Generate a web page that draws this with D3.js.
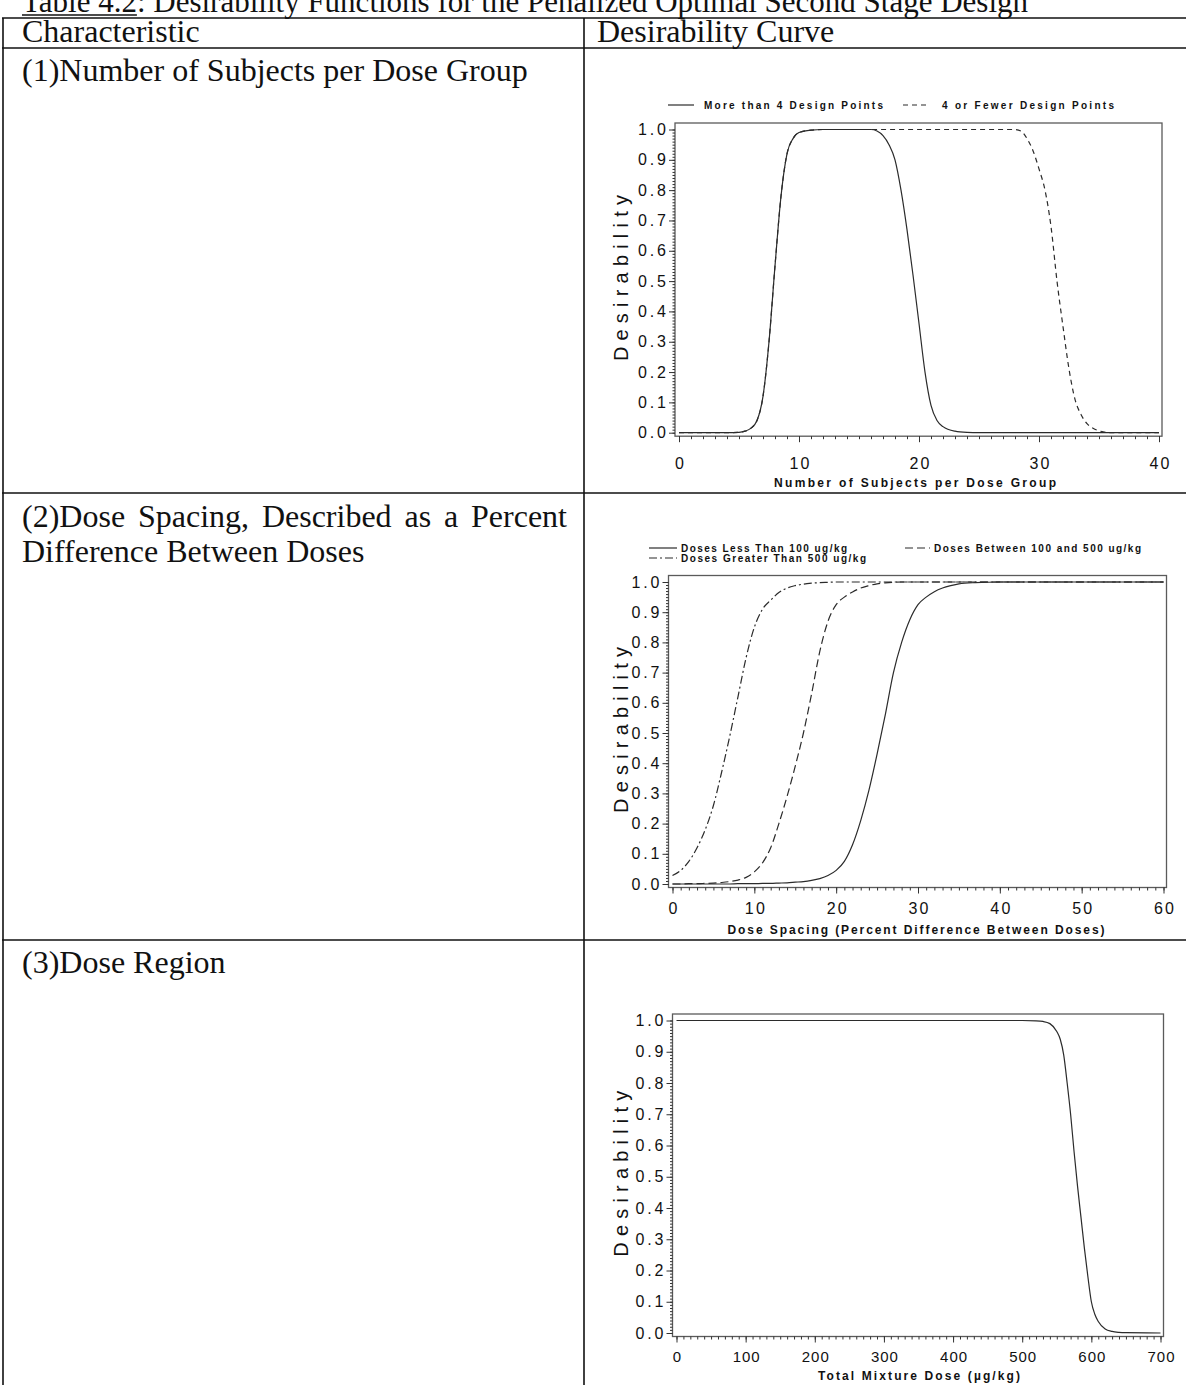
<!DOCTYPE html>
<html>
<head>
<meta charset="utf-8">
<script src="https://cdn.jsdelivr.net/npm/d3@7"></script>
<style>
  html, body { margin: 0; padding: 0; background: #fff; }
  svg { display: block; }
</style>
</head>
<body>
<svg id="page" width="1186" height="1385"></svg>
<script>
// ---------- table text ----------
const titleLead = "Table 4.2";
const titleRest = ": Desirability Functions for the Penalized Optimal Second Stage Design";
const columnHeaders = ["Characteristic", "Desirability Curve"];
const rowLabels = [
  ["(1)Number of Subjects per Dose Group"],
  ["(2)Dose Spacing, Described as a Percent", "Difference Between Doses"],
  ["(3)Dose Region"]
];

// ---------- shared axis ticks ----------
const desirabilityTicks = [0, 0.1, 0.2, 0.3, 0.4, 0.5, 0.6, 0.7, 0.8, 0.9, 1.0];

// ---------- (1) number of subjects per dose group ----------
const subjectTicks = [0, 10, 20, 30, 40];
const subjectCounts = [0, 2, 4, 5, 5.5, 6, 6.5, 7, 7.5, 8, 8.5, 9, 9.5, 10, 11, 12, 14, 16,
  16.5, 17, 17.5, 18, 18.5, 19, 19.5, 20, 20.5, 21, 21.5, 22, 23, 24, 25, 26,
  28, 28.5, 29, 29.5, 30, 30.5, 31, 31.5, 32, 32.5, 33, 33.5, 34, 34.5, 35, 35.5, 36, 38, 40];
const desMoreThan4 = [0, 0, 0, 0.001, 0.005, 0.015, 0.04, 0.12, 0.3, 0.55, 0.78, 0.92, 0.97, 0.99, 0.998, 1, 1, 1,
  0.995, 0.98, 0.95, 0.9, 0.8, 0.67, 0.52, 0.36, 0.2, 0.09, 0.04, 0.02, 0.005, 0.001, 0, 0,
  0, 0, 0, 0, 0, 0, 0, 0, 0, 0, 0, 0, 0, 0, 0, 0, 0, 0, 0];
const desFourOrFewer = [0, 0, 0, 0.001, 0.005, 0.015, 0.04, 0.12, 0.3, 0.55, 0.78, 0.92, 0.97, 0.99, 0.998, 1, 1, 1,
  1, 1, 1, 1, 1, 1, 1, 1, 1, 1, 1, 1, 1, 1, 1, 1,
  1, 0.995, 0.97, 0.93, 0.87, 0.8, 0.68, 0.5, 0.35, 0.21, 0.11, 0.06, 0.03, 0.015, 0.006, 0.002, 0, 0, 0];

// ---------- (2) dose spacing ----------
const spacingTicks = [0, 10, 20, 30, 40, 50, 60];
const doseSpacing = [0, 1, 2, 3, 4, 5, 6, 7, 8, 9, 10, 11, 12, 13, 14, 15, 16, 17, 18, 19,
  20, 21, 22, 23, 24, 25, 26, 27, 28, 29, 30, 31, 32, 33, 34, 35, 37, 40, 45, 50, 55, 60];
const desLess100 = [0, 0, 0, 0, 0, 0, 0, 0, 0.001, 0.001, 0.001, 0.002, 0.002, 0.003, 0.004, 0.006, 0.008, 0.012, 0.018, 0.028,
  0.045, 0.075, 0.13, 0.21, 0.31, 0.43, 0.56, 0.7, 0.8, 0.875, 0.925, 0.95, 0.968, 0.98, 0.988, 0.994, 0.998, 1, 1, 1, 1, 1];
const desBetween100And500 = [0, 0, 0.001, 0.001, 0.002, 0.003, 0.005, 0.008, 0.013, 0.022, 0.04, 0.07, 0.12, 0.2, 0.29, 0.39, 0.5, 0.63, 0.77, 0.87,
  0.925, 0.95, 0.967, 0.98, 0.988, 0.994, 0.997, 0.999, 1, 1, 1, 1, 1, 1, 1, 1, 1, 1, 1, 1, 1, 1];
const desGreater500 = [0.028, 0.045, 0.075, 0.12, 0.18, 0.26, 0.37, 0.49, 0.62, 0.75, 0.85, 0.91, 0.94, 0.965, 0.98, 0.988, 0.993, 0.996, 0.998, 0.999,
  1, 1, 1, 1, 1, 1, 1, 1, 1, 1, 1, 1, 1, 1, 1, 1, 1, 1, 1, 1, 1, 1];

// ---------- (3) dose region ----------
const doseTicks = [0, 100, 200, 300, 400, 500, 600, 700];
const totalDose = [0, 100, 200, 300, 400, 500, 520, 530, 540, 550, 555, 560, 565, 570, 575, 580, 585, 590, 595, 600, 605, 610, 620, 630, 640, 650, 700];
const desDoseRegion = [1, 1, 1, 1, 1, 1, 0.999, 0.997, 0.99, 0.965, 0.94, 0.89, 0.8, 0.7, 0.58, 0.47, 0.37, 0.27, 0.18, 0.1, 0.06, 0.037, 0.013, 0.005, 0.002, 0.001, 0];

// ---------- styling ----------
const SERIF = "'Liberation Serif','Times New Roman',serif";
const SANS = "'Liberation Sans',Arial,sans-serif";
const INK = "#111";
const CURVE = "#2b2b2b";
const FRAME = "#5a5a5a";
const DASHES = { solid: null, dash: "5,4", longDash: "8,4", dashDot: "8,3,2,3" };

const svg = d3.select("#page");

// ---------- table ----------
const title = svg.append("text")
  .attr("x", 22).attr("y", 12)
  .attr("font-family", SERIF).attr("font-size", 31).attr("fill", INK);
title.append("tspan").text(titleLead);
title.append("tspan").text(titleRest);
const leadW = title.node().getSubStringLength(0, titleLead.length);
svg.append("line").attr("x1", 22).attr("x2", 22 + leadW).attr("y1", 15).attr("y2", 15)
  .attr("stroke", INK).attr("stroke-width", 1.4);

const ruleY = [18, 48, 493, 940];
ruleY.forEach(yv => svg.append("line")
  .attr("x1", 2).attr("x2", 1186).attr("y1", yv).attr("y2", yv)
  .attr("stroke", INK).attr("stroke-width", 1.6));
[3, 584].forEach(xv => svg.append("line")
  .attr("x1", xv).attr("x2", xv).attr("y1", 18).attr("y2", 1385)
  .attr("stroke", INK).attr("stroke-width", 1.6));

function serifText(str, x, y) {
  return svg.append("text").attr("x", x).attr("y", y)
    .attr("font-family", SERIF).attr("font-size", 32).attr("fill", INK).text(str);
}
serifText(columnHeaders[0], 22, 42);
serifText(columnHeaders[1], 597, 42);
serifText(rowLabels[0][0], 22, 81);

// justified first line of row 2: words spread between the cell margins
(function justified(line, x0, x1, y) {
  const words = line.split(" ");
  const nodes = words.map(w => serifText(w, 0, y));
  const widths = nodes.map(n => n.node().getComputedTextLength());
  const gap = (x1 - x0 - d3.sum(widths)) / (words.length - 1);
  let cx = x0;
  nodes.forEach((n, i) => { n.attr("x", cx); cx += widths[i] + gap; });
})(rowLabels[1][0], 22, 567, 527);
serifText(rowLabels[1][1], 22, 562);
serifText(rowLabels[2][0], 22, 973);

// ---------- chart drawing ----------
function sasText(g, str, x, y, size, width, opts = {}) {
  const t = g.append("text").attr("x", x).attr("y", y)
    .attr("font-family", SANS).attr("font-size", size)
    .attr("font-weight", opts.bold ? "bold" : "normal")
    .attr("fill", INK)
    .attr("text-anchor", opts.anchor || "start")
    .text(str);
  if (width && str.length > 1) t.attr("textLength", width).attr("lengthAdjust", "spacing");
  if (opts.transform) t.attr("transform", opts.transform);
  return t;
}

function drawChart(cfg) {
  const g = svg.append("g");
  const x = d3.scaleLinear().domain(cfg.xDomain).range(cfg.xPx);
  const y = d3.scaleLinear().domain([0, 1]).range([cfg.yPx[1], cfg.yPx[0]]);

  const fl = cfg.xPx[0] - 4, fr = cfg.xPx[1] + 3;
  const ft = y(1) - 6.5, fb = y(0) + 3.5;

  // curves
  const line = d3.line().x(d => x(d[0])).y(d => y(d[1])).curve(d3.curveMonotoneX);
  cfg.series.forEach(s => {
    g.append("path")
      .datum(cfg.xs.map((xv, i) => [xv, s.values[i]]))
      .attr("d", line)
      .attr("fill", "none")
      .attr("stroke", CURVE)
      .attr("stroke-width", 1.2)
      .attr("stroke-dasharray", DASHES[s.style]);
  });

  // frame
  g.append("rect").attr("x", fl).attr("y", ft).attr("width", fr - fl).attr("height", fb - ft)
    .attr("fill", "none").attr("stroke", FRAME).attr("stroke-width", 1.3);

  // y axis: minor then major ticks
  g.append("g").attr("transform", `translate(${fl},0)`).style("color", "#333")
    .call(d3.axisLeft(y).tickValues(d3.range(0, 100.5, 1).map(v => v / 100)).tickSize(2.5).tickFormat(""))
    .call(a => a.select(".domain").remove());
  const ya = g.append("g").attr("transform", `translate(${fl},0)`).style("color", "#333")
    .call(d3.axisLeft(y).tickValues(desirabilityTicks).tickSize(6).tickPadding(3).tickFormat(d3.format(".1f")));
  ya.select(".domain").remove();
  ya.selectAll("text")
    .attr("font-family", SANS).attr("font-size", 16).attr("fill", INK)
    .attr("textLength", 28).attr("lengthAdjust", "spacing");

  // x axis: minor then major ticks
  g.append("g").attr("transform", `translate(0,${fb})`).style("color", "#333")
    .call(d3.axisBottom(x).tickValues(d3.range(cfg.xDomain[0], cfg.xDomain[1] + cfg.minorStep / 2, cfg.minorStep)).tickSize(3).tickFormat(""))
    .call(a => a.select(".domain").remove());
  const xa = g.append("g").attr("transform", `translate(0,${fb})`).style("color", "#333")
    .call(d3.axisBottom(x).tickValues(cfg.xTicks).tickSize(6).tickFormat(d3.format("d")));
  xa.select(".domain").remove();
  xa.selectAll("text")
    .attr("font-family", SANS).attr("font-size", cfg.xLabelSize).attr("fill", INK)
    .attr("y", cfg.xLabelBase - fb).attr("dy", 0)
    .each(function (d) {
      const s = String(d);
      if (s.length > 1) d3.select(this).attr("textLength", cfg.xLabelW).attr("lengthAdjust", "spacing");
    });

  // axis titles
  sasText(g, cfg.xTitle, cfg.xTitleCx, cfg.xTitleBase, 12, cfg.xTitleW, { bold: true, anchor: "middle" });
  sasText(g, "Desirability", 0, 0, 20, 166, {
    anchor: "middle",
    transform: `translate(628,${(y(0) + y(1)) / 2 - 3}) rotate(-90)`
  });

  // legend
  (cfg.legend || []).forEach(item => {
    g.append("line").attr("x1", item.lx[0]).attr("x2", item.lx[1]).attr("y1", item.y).attr("y2", item.y)
      .attr("stroke", CURVE).attr("stroke-width", 1.2).attr("stroke-dasharray", DASHES[item.style]);
    sasText(g, item.label, item.tx, item.y + 3.5, 10, item.tw, { bold: true });
  });
}

drawChart({
  xDomain: [0, 40], xPx: [679, 1159], yPx: [129.5, 432.7],
  xTicks: subjectTicks, minorStep: 1, xLabelBase: 469, xLabelW: 20, xLabelSize: 16,
  xTitle: "Number of Subjects per Dose Group", xTitleCx: 915, xTitleBase: 487, xTitleW: 282,
  xs: subjectCounts,
  series: [
    { values: desFourOrFewer, style: "dash" },
    { values: desMoreThan4, style: "solid" }
  ],
  legend: [
    { label: "More than 4 Design Points", style: "solid", lx: [668, 694], tx: 704, tw: 179, y: 105 },
    { label: "4 or Fewer Design Points", style: "dash", lx: [903, 928], tx: 942, tw: 172, y: 105 }
  ]
});

drawChart({
  xDomain: [0, 60], xPx: [672.5, 1163.5], yPx: [582, 884],
  xTicks: spacingTicks, minorStep: 1, xLabelBase: 914, xLabelW: 20, xLabelSize: 16,
  xTitle: "Dose Spacing (Percent Difference Between Doses)", xTitleCx: 916, xTitleBase: 934, xTitleW: 377,
  xs: doseSpacing,
  series: [
    { values: desGreater500, style: "dashDot" },
    { values: desBetween100And500, style: "longDash" },
    { values: desLess100, style: "solid" }
  ],
  legend: [
    { label: "Doses Less Than 100 ug/kg", style: "solid", lx: [649, 677], tx: 681, tw: 166, y: 548 },
    { label: "Doses Between 100 and 500 ug/kg", style: "longDash", lx: [905, 930], tx: 934, tw: 207, y: 548 },
    { label: "Doses Greater Than 500 ug/kg", style: "dashDot", lx: [649, 677], tx: 681, tw: 185, y: 558 }
  ]
});

drawChart({
  xDomain: [0, 700], xPx: [676.5, 1160.5], yPx: [1020.5, 1333],
  xTicks: doseTicks, minorStep: 10, xLabelBase: 1362, xLabelW: 27, xLabelSize: 15,
  xTitle: "Total Mixture Dose (µg/kg)", xTitleCx: 919, xTitleBase: 1380, xTitleW: 202,
  xs: totalDose,
  series: [{ values: desDoseRegion, style: "solid" }]
});
</script>
</body>
</html>
